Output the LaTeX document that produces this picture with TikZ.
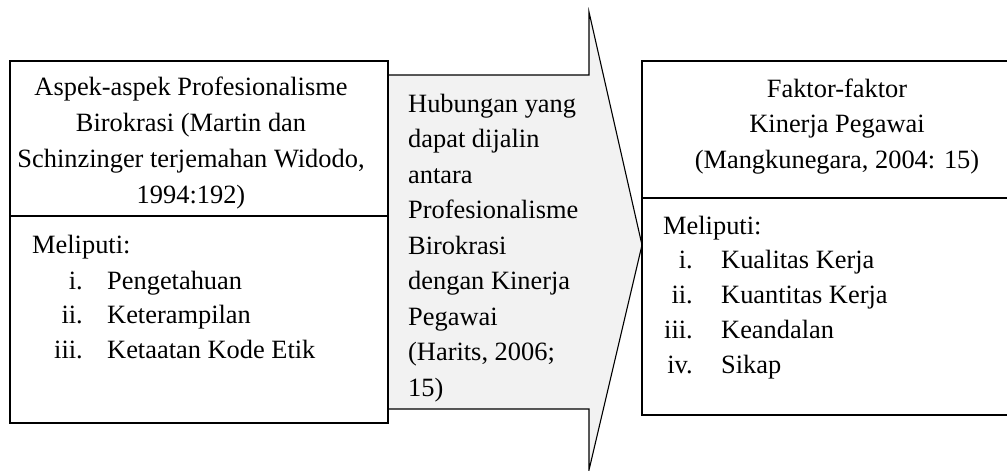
\documentclass[tikz,border=0pt]{standalone}
\usepackage{fontspec}
\setmainfont{Liberation Serif}
\begin{document}
\begin{tikzpicture}[x=1pt,y=-1pt,
  line/.style={line width=1.4pt},
  txt/.style={inner sep=0pt,anchor=base,font=\fontsize{26.4}{30}\selectfont},
  txtl/.style={txt,anchor=base west},
  txtr/.style={txt,anchor=base east}]
\useasboundingbox (0,0) rectangle (1007,471);
% arrow
\draw[line width=1.1pt,fill={rgb,255:red,242;green,242;blue,242}]
  (387,75) -- (589,75) -- (589,12) -- (642,245) -- (589,470) -- (589,409) -- (387,409) -- cycle;
% left box
\draw[line,fill=white] (10,61) rectangle (388,423);
\draw[line] (10,216) -- (388,216);
% right box (cut at the right edge)
\draw[line,fill=white] (1007,61) -- (642,61) -- (642,415) -- (1007,415);
\draw[line] (642,198) -- (1007,198);
% left box texts
\foreach \t [count=\i] in {Aspek-aspek Profesionalisme,{Birokrasi (Martin dan},{Schinzinger terjemahan Widodo,},1994:192)}
  \node[txt] (lt\i) at (191,{95+36*(\i-1)}) {\t};
\node[txtl] (lm) at (32,253) {Meliputi:};
\foreach \n/\t [count=\i] in {i./Pengetahuan,ii./Keterampilan,iii./Ketaatan Kode Etik}{
  \node[txtr] (ln\i) at (83,{289+34.5*(\i-1)}) {\n};
  \node[txtl] (li\i) at (107,{289+34.5*(\i-1)}) {\t};
}
% arrow texts
\foreach \t [count=\i] in {Hubungan yang,dapat dijalin,antara,Profesionalisme,Birokrasi,dengan Kinerja,Pegawai,{(Harits, 2006;},15)}
  \node[txtl] (at\i) at (408,{112+35.5*(\i-1)}) {\t};
% right box texts
\foreach \t [count=\i] in {Faktor-faktor,Kinerja Pegawai,{(Mangkunegara, 2004: 15)}}
  \node[txt] (rt\i) at (837,{97+35.5*(\i-1)}) {\t};
\node[txtl] (rm) at (663,234) {Meliputi:};
\foreach \n/\t [count=\i] in {i./Kualitas Kerja,ii./Kuantitas Kerja,iii./Keandalan,iv./Sikap}{
  \node[txtr] (rn\i) at (693,{268+35*(\i-1)}) {\n};
  \node[txtl] (ri\i) at (721,{268+35*(\i-1)}) {\t};
}
\end{tikzpicture}
\end{document}
